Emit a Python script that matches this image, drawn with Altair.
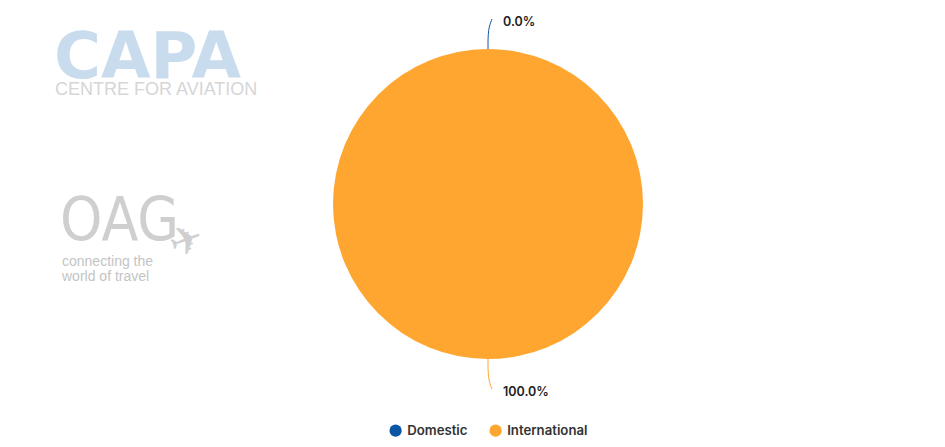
import altair as alt
import pandas as pd
import numpy as np

categories = ["Domestic", "International"]
shares = [0.0, 100.0]
colors = ["#0b56a4", "#ffa630"]

W, H = 929, 431
CX, CY, R = 480, 196, 155

df = pd.DataFrame({"category": categories, "share": shares, "k": [0, 1]})
total = df["share"].sum()
cum = df["share"].cumsum() - df["share"]
mid = ((cum + df["share"] / 2) / total * 2 * np.pi).tolist()
df["label"] = [f"{v:.1f}%" for v in shares]

lines, labels = [], []
for c, a, lab in zip(categories, mid, df["label"]):
    ox, oy = np.sin(a), -np.cos(a)
    ex, ey = CX + R * ox, CY + R * oy
    pts = [(ex, ey), (ex + 20 * ox, ey + 20 * oy), (ex + 30 * ox + 4, ey + 30 * oy)]
    for i, (px, py) in enumerate(pts):
        lines.append({"category": c, "i": i, "px": px, "py": py})
    labels.append({"category": c, "label": lab, "px": pts[-1][0] + 11, "py": pts[-1][1] + 3})
lines = pd.DataFrame(lines)
labels = pd.DataFrame(labels)

cscale = alt.Scale(domain=categories, range=colors)

pie = alt.Chart(df).mark_arc(outerRadius=R, strokeWidth=0).encode(
    theta=alt.Theta("share:Q", stack=True),
    order=alt.Order("k:Q"),
    color=alt.Color("category:N", scale=cscale, legend=alt.Legend(
        title=None, orient="none", direction="horizontal", legendX=381, legendY=416,
        symbolType="circle", symbolSize=150, symbolStrokeWidth=0,
        labelFont="Inter", labelFontSize=13.2, labelFontWeight=600, labelColor="#333333",
        labelOffset=5, columnPadding=21, padding=0)),
    x=alt.value(CX), y=alt.value(CY),
)

leader = alt.Chart(lines).mark_line(strokeWidth=1, interpolate="basis").encode(
    x=alt.X("px:Q", scale=None, axis=None),
    y=alt.Y("py:Q", scale=None, axis=None),
    order="i:Q",
    detail="category:N",
    color=alt.Color("category:N", scale=cscale, legend=None),
)

lab = alt.Chart(labels).mark_text(align="left", baseline="middle", font="Inter",
                                   fontSize=12.5, fontWeight=600, color="#222222").encode(
    x=alt.X("px:Q", scale=None, axis=None),
    y=alt.Y("py:Q", scale=None, axis=None),
    text="label:N",
)

# watermark logos
wm = pd.DataFrame({"t": [""]})
def wtext(t, x, y, size, color, font="Liberation Sans", weight="normal", angle=0):
    return alt.Chart(wm).mark_text(text=t, align="left", baseline="alphabetic", font=font,
                                   fontSize=size, fontWeight=weight, color=color,
                                   angle=angle).encode(
        x=alt.value(x), y=alt.value(y))

logos = [
    wtext("CAPA", 46, 70, 64, "#c9dcee", font="DejaVu Sans", weight="bold"),
    wtext("CENTRE FOR AVIATION", 47, 87, 18, "#d6d6d6"),
    wtext("OAG", 52, 232, 60, "#cfcfcf", font="DejaVu Sans Condensed, Roboto Condensed, Roboto"),
    wtext("connecting the", 54, 258, 14, "#c4c4c4"),
    wtext("world of travel", 54, 273, 14, "#c4c4c4"),
    wtext("✈", 167, 251, 40, "#cfcfcf", font="DejaVu Sans", angle=340),
]

chart = alt.layer(*logos, pie, leader, lab).properties(
    width=W, height=H, autosize=alt.AutoSizeParams(type="none"), padding=0
).configure_view(stroke=None)

chart.save("out.html", embed_options={"renderer": "svg", "actions": False})
